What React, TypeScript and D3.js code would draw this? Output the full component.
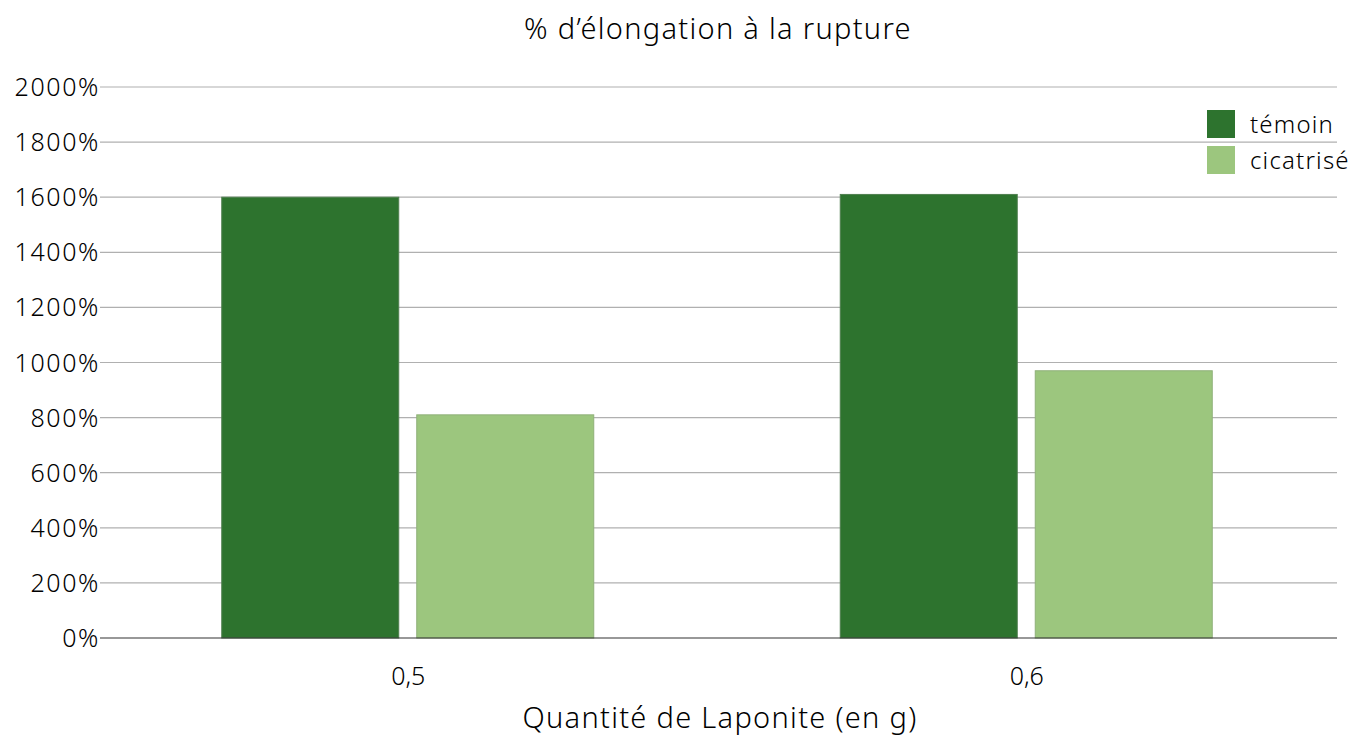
import { useEffect, useRef } from 'react';
import * as d3 from 'd3';

// data
const categories = ['0,5', '0,6'];
const seriesNames = ['témoin', 'cicatrisé'];
const temoin = [1600, 1610];
const cicatrise = [810, 970];
const yTicks = [0, 200, 400, 600, 800, 1000, 1200, 1400, 1600, 1800, 2000];
const colors = ['#2d732e', '#9cc67e'];
const strokes = ['#4f7f4f', '#8fb079'];

export default function App() {
    const ref = useRef<SVGSVGElement>(null);

    useEffect(() => {
        const left = 100;
        const right = 1337;
        const top = 87;
        const bottom = 638;
        const font = '"Noto Sans", sans-serif';

        const svg = d3.select(ref.current);
        svg.selectAll('*').remove();

        const x = d3.scaleBand().domain(categories).range([left, right]);
        const y = d3.scaleLinear().domain([0, 2000]).range([bottom, top]);

        // grid lines
        svg.append('g')
            .selectAll('line')
            .data(yTicks.slice(1))
            .enter()
            .append('line')
            .attr('x1', left)
            .attr('x2', right)
            .attr('y1', d => y(d))
            .attr('y2', d => y(d))
            .attr('stroke', '#b0b0b0')
            .attr('stroke-width', 1.2);

        // y tick labels
        svg.append('g')
            .selectAll('text')
            .data(yTicks)
            .enter()
            .append('text')
            .attr('x', left)
            .attr('y', d => y(d))
            .attr('dy', '0.36em')
            .attr('text-anchor', 'end')
            .attr('font-family', font)
            .attr('font-weight', 300)
            .attr('font-size', 25)
            .attr('letter-spacing', 1.6)
            .attr('fill', '#000')
            .text(d => d + '%');

        // bars
        const barW = 177;
        const gap = 18;
        const series = [temoin, cicatrise];
        series.forEach((vals, si) => {
            svg.append('g')
                .selectAll('rect')
                .data(vals)
                .enter()
                .append('rect')
                .attr('x', (d, i) => x(categories[i])! + x.bandwidth() / 2 - barW - gap / 2 + si * (barW + gap) - 1.5)
                .attr('y', d => y(d))
                .attr('width', barW)
                .attr('height', d => bottom - y(d))
                .attr('fill', colors[si])
                .attr('stroke', strokes[si])
                .attr('stroke-width', 1);
        });

        // baseline
        svg.append('line')
            .attr('x1', left)
            .attr('x2', right)
            .attr('y1', bottom)
            .attr('y2', bottom)
            .attr('stroke', '#333')
            .attr('stroke-width', 1.2);

        // x tick labels
        svg.append('g')
            .selectAll('text')
            .data(categories)
            .enter()
            .append('text')
            .attr('x', d => x(d)! + x.bandwidth() / 2 - 1)
            .attr('y', 685)
            .attr('text-anchor', 'middle')
            .attr('font-family', font)
            .attr('font-weight', 300)
            .attr('font-size', 25)
            .attr('fill', '#000')
            .text(d => d);

        // titles
        svg.append('text')
            .attr('x', 718)
            .attr('y', 39)
            .attr('text-anchor', 'middle')
            .attr('font-family', font)
            .attr('font-weight', 300)
            .attr('font-size', 29)
            .attr('letter-spacing', 1.3)
            .attr('fill', '#000')
            .text('% d’élongation à la rupture');

        svg.append('text')
            .attr('x', 720)
            .attr('y', 728)
            .attr('text-anchor', 'middle')
            .attr('font-family', font)
            .attr('font-weight', 300)
            .attr('font-size', 29)
            .attr('letter-spacing', 1.3)
            .attr('fill', '#000')
            .text('Quantité de Laponite (en g)');

        // legend
        const legend = svg.append('g');
        seriesNames.forEach((name, i) => {
            legend.append('rect')
                .attr('x', 1207)
                .attr('y', 110 + i * 36)
                .attr('width', 28)
                .attr('height', 28)
                .attr('fill', colors[i]);
            legend.append('text')
                .attr('x', 1250)
                .attr('y', 124 + i * 36)
                .attr('dy', '0.36em')
                .attr('font-family', font)
                .attr('font-weight', 300)
                .attr('font-size', 24)
                .attr('letter-spacing', 1.2)
                .attr('fill', '#000')
                .text(name);
        });
    }, []);

    return (
        <svg ref={ref} width={1354} height={735} style={{ position: 'absolute', left: 0, top: 0 }} />
    );
}
